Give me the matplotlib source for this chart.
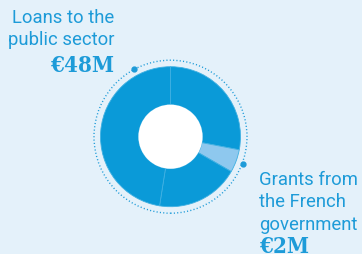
import matplotlib
matplotlib.use("Agg")
import matplotlib.pyplot as plt
from matplotlib.patches import Circle
import numpy as np

# Data (shares of the ring, clockwise from 12 o'clock)
segments = ["Other A", "Grants from the French government", "Other B", "Other C"]
values = [28.0, 5.3, 19.2, 47.5]
colors = ["#0a9ad8", "#8ec8ee", "#0a9ad8", "#0a9ad8"]
label_left = ["Loans to the", "public sector"]
amount_left = "€48M"
label_right = ["Grants from", "the French", "government"]
amount_right = "€2M"

W, H = 362, 255
BG = "#e4f1fa"
TXT = "#1d9bd8"

fig = plt.figure(figsize=(W / 100, H / 100), dpi=100, facecolor=BG)
ax = fig.add_axes([0, 0, 1, 1])

cx, cy = 170.5, H - 137.7
R, r_in = 70, 32

ax.pie(values, colors=colors, startangle=90, counterclock=False,
       radius=R, center=(cx, cy), frame=True,
       wedgeprops=dict(width=R - r_in, edgecolor="#3fb0e2", linewidth=0.6))
ax.set_xlim(0, W)
ax.set_ylim(0, H)
ax.set_aspect("equal")
ax.axis("off")
ax.add_patch(Circle((cx, cy), r_in, facecolor="white", edgecolor="none", zorder=3))

# dotted outer ring
ax.add_patch(Circle((cx, cy), 76.5, fill=False, edgecolor="#1d9bd8",
                    linewidth=1.0, linestyle=(0, (0.8, 1.6)), zorder=2))
for ang in [118.7, -20.7]:
    a = np.deg2rad(ang)
    ax.plot(cx + 77 * np.cos(a), cy + 77 * np.sin(a), "o", color="#1d9bd8",
            markersize=3.5, zorder=4)

FS = 13.3
# left text
ax.text(114, H - 23, label_left[0], ha="right", va="baseline", color=TXT,
        fontsize=FS, family="Roboto")
ax.text(114, H - 45, label_left[1], ha="right", va="baseline", color=TXT,
        fontsize=FS, family="Roboto")
ax.text(114, H - 72, amount_left, ha="right", va="baseline", color=TXT,
        fontsize=16, family="DejaVu Serif", fontweight="bold",
        fontstretch="condensed")

# right text
for i, s in enumerate(label_right):
    ax.text(259, H - (185 + 22.5 * i), s, ha="left", va="baseline", color=TXT,
            fontsize=FS, family="Roboto")
ax.text(259, H - 253, amount_right, ha="left", va="baseline", color=TXT,
        fontsize=16, family="DejaVu Serif", fontweight="bold",
        fontstretch="condensed")

fig.savefig("out.png", dpi=100, facecolor=BG)
